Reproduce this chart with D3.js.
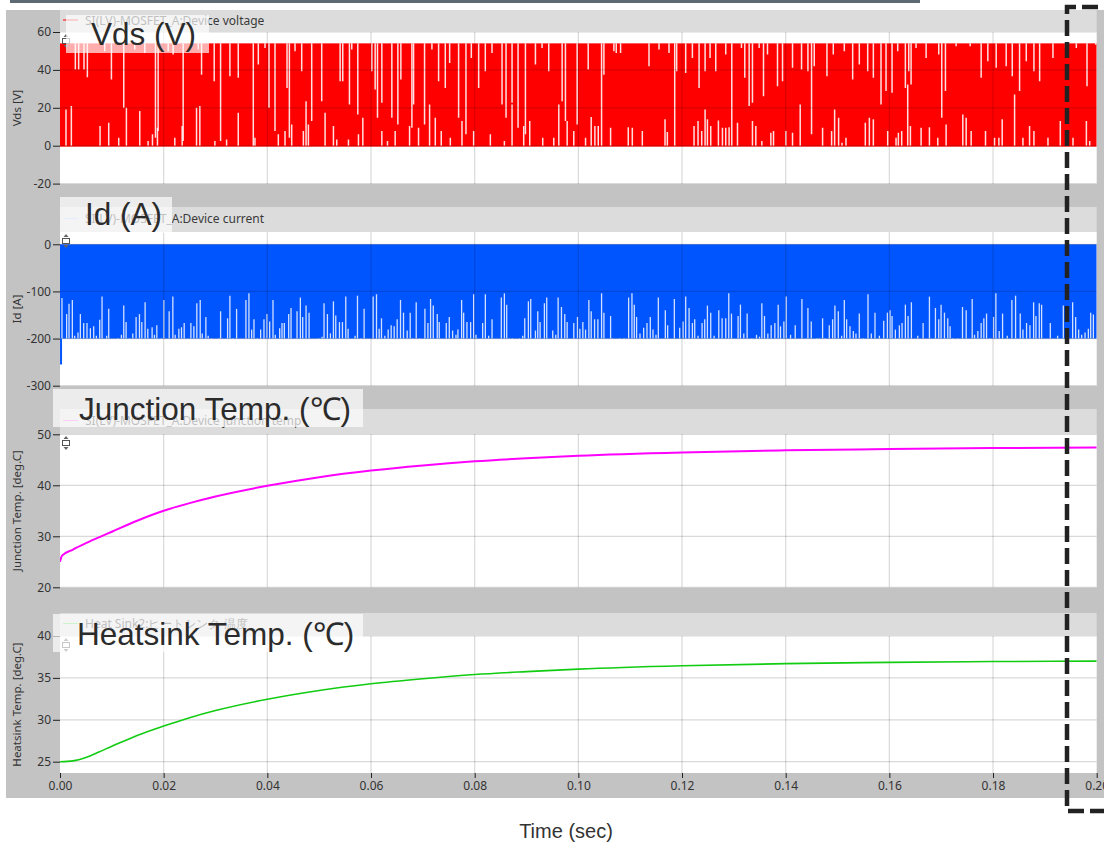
<!DOCTYPE html>
<html><head><meta charset="utf-8">
<script src="https://cdn.jsdelivr.net/npm/d3@7"></script>
<style>
body{margin:0;background:#fff;}
svg{display:block;font-family:"Noto Sans","DejaVu Sans",sans-serif;}
</style>
</head><body>
<svg id="chart" width="1104" height="847"></svg>
<script>
// ---------------- data ----------------
const timeTicks = [0,0.02,0.04,0.06,0.08,0.10,0.12,0.14,0.16,0.18,0.20];
const timeTickLabels = ["0.00","0.02","0.04","0.06","0.08","0.10","0.12","0.14","0.16","0.18","0.20"];
const vdsTicks = [-20,0,20,40,60];
const idTicks = [-300,-200,-100,0];
const tjTicks = [20,30,40,50];
const hsTicks = [25,30,35,40];
const seriesNames = ["SI(LV)-MOSFET_A:Device voltage","SI(LV)-MOSFET_A:Device current","SI(LV)-MOSFET_A:Device junction temp","Heat Sink2:ヒートシンク 温度"];
const axisTitles = ["Vds [V]","Id [A]","Junction Temp. [deg.C]","Heatsink Temp. [deg.C]"];
const annotations = ["Vds (V)","Id (A)","Junction Temp. (℃)","Heatsink Temp. (℃)"];
const xTitle = "Time (sec)";

// Vds switches between these two levels (V)
const vdsLevels = [-0.5, 54];
// white gaps hanging from the top level (time ms, lower end V)
const vdsTopGapTime = [2.96,3.60,4.63,5.28,8.63,9.92,12.30,14.42,16.36,18.42,18.93,20.87,21.83,23.76,26.66,27.31,29.75,30.98,32.78,34.39,37.29,38.26,39.55,40.32,41.48,43.80,44.25,45.34,46.63,48.56,50.49,54.04,54.55,55.84,56.29,57.45,60.16,60.80,61.25,62.09,64.02,65.18,65.76,67.89,68.21,70.33,71.75,73.04,74.33,75.17,76.90,78.32,79.35,80.77,82.05,83.34,85.28,86.05,87.21,88.37,89.79,91.72,93.00,94.29,96.87,97.51,99.77,
101.90,104.48,104.93,106.86,107.31,108.15,113.63,115.56,117.49,118.59,118.97,120.71,122.00,123.29,124.45,125.41,126.51,128.44,129.60,131.47,132.11,132.95,133.59,134.88,135.72,136.49,138.42,139.39,141.32,143.06,144.29,144.99,145.51,147.96,149.18,151.31,152.92,154.20,155.82,156.91,158.39,159.36,160.52,161.61,163.09,163.74,164.19,165.15,167.09,169.53,170.11,170.82,172.88,175.59,177.71,179.00,180.61,182.54,183.71,185.12,186.41,187.89,188.99,191.56,194.01,196.07,198.13,199.81];
const vdsTopGapLow = [40.2,40.2,40.2,36.1,49.8,34.9,20.0,50.7,48.9,4.2,7.7,49.8,48.1,2.5,50.7,37.5,34.0,2.5,36.7,35.8,0,42.8,51.6,20.0,7.7,30.5,4.2,49.8,39.3,13.0,23.5,34.0,34.0,21.8,50.7,16.5,39.3,29.7,14.7,22.6,14.7,11.2,34.9,9.5,21.8,11.2,50.7,34.0,30.5,43.7,14.7,6.0,46.3,30.5,39.3,48.9,21.8,14.7,22.6,9.5,6.0,42.8,51.6,39.3,23.5,13.0,11.2,
40.2,0,37.5,49.8,48.9,48.9,41.9,50.7,48.9,0,39.3,38.4,46.3,30.5,39.3,46.3,39.3,48.1,0,51.6,35.8,20.9,22.6,51.6,26.1,48.1,31.4,34.0,41.1,40.2,39.3,6.0,41.9,36.7,48.1,49.8,34.9,42.8,39.3,35.8,21.8,28.8,27.9,49.8,30.5,39.3,32.3,51.6,46.3,48.1,14.7,28.8,52.5,52.5,35.8,44.6,41.1,41.9,36.7,28.8,44.6,39.3,34.0,46.3,51.6,51.6,31.4,53.3];
// white gaps rising from the low level (time ms, upper end V)
const vdsBottomGapTime = [1.16,2.19,7.73,9.40,11.33,12.81,15.39,17.00,17.84,18.80,22.15,23.57,26.34,26.98,29.88,32.14,34.39,37.61,42.12,43.41,44.70,46.95,47.47,47.92,51.14,52.75,53.39,55.65,57.58,58.42,62.09,63.18,64.66,67.44,69.17,71.30,72.40,73.55,75.30,77.55,79.80,83.02,85.73,87.21,89.46,90.62,93.13,95.26,96.23,97.84,99.12,
101.39,102.48,103.19,103.84,106.22,109.63,110.41,112.34,116.72,117.17,122.32,123.09,123.80,124.45,124.90,125.54,127.02,127.80,128.44,129.08,130.70,133.59,134.24,135.40,137.14,137.65,140.03,141.32,142.80,147.12,148.86,149.44,150.21,150.86,151.63,155.36,156.14,156.91,159.68,161.29,161.74,162.38,163.54,164.06,166.12,167.73,169.34,170.95,174.17,174.82,175.78,178.55,180.29,181.13,181.77,184.16,185.77,187.05,187.89,190.60,192.98,195.43,198.01,198.65];
const vdsBottomGapHigh = [19.1,20.9,10.4,12.1,4.2,20.0,18.3,2.5,6.0,9.5,4.2,10.4,20.0,20.9,2.5,3.3,17.4,4.2,6.0,7.7,11.2,7.7,23.5,11.2,17.4,10.4,3.3,3.3,6.0,14.7,7.7,2.5,7.7,10.4,9.5,21.8,14.7,7.7,4.2,13.0,7.7,6.0,2.5,21.8,10.4,13.0,4.2,4.2,21.8,13.0,7.7,
4.2,15.1,10.4,10.4,9.5,9.8,9.5,7.7,13.9,7.2,10.4,13.0,7.7,19.1,13.9,10.4,13.3,9.5,9.5,9.8,12.1,13.0,10.4,2.5,6.8,7.7,7.7,6.8,21.8,9.5,7.7,19.1,14.7,1.6,4.2,12.1,14.7,13.9,7.7,4.2,6.8,7.7,32.3,10.4,9.5,9.8,4.2,11.2,16.5,14.7,7.7,7.7,4.2,4.2,13.9,27.0,4.2,10.4,7.7,4.2,13.0,4.2,13.0,2.5];

// Id switches between these two levels (A)
const idLevels = [-200, 0];
const idStartMin = -255;
// white spikes rising from -200 A (time ms, top A)
const idSpikeTime = [0.38,1.28,1.74,2.38,2.83,3.47,3.93,4.57,5.21,5.86,6.50,7.02,7.66,8.11,9.01,9.40,11.2,11.85,12.30,12.75,13.39,14.04,14.68,15.33,15.78,16.42,16.94,17.77,18.22,18.68,19.58,20.03,21.06,21.77,22.22,22.93,23.44,23.96,25.25,25.83,26.40,27.05,27.44,28.14,28.59,29.24,30.66,30.98,32.33,32.78,33.36,34.07,35.87,36.45,36.97,37.42,38.06,38.71,39.35,39.93,40.45,41.09,41.54,42.38,42.83,43.28,44.12,44.57,45.73,46.37,46.82,47.47,48.05,49.91,50.56,50.94,51.59,52.17,52.75,53.20,53.91,54.49,55.13,55.58,56.93,57.39,58.03,58.67,60.41,61.06,61.57,62.02,62.67,63.31,63.89,64.47,65.05,65.69,66.27,66.98,67.56,68.01,68.72,69.37,70.40,70.98,71.49,72.01,72.78,73.16,74.52,75.10,75.74,76.39,76.77,77.48,77.87,78.51,79.22,79.80,80.25,81.54,82.06,82.70,83.35,85.14,85.73,86.18,86.69,87.27,88.62,89.27,89.66,90.36,90.81,91.72,92.17,92.62,93.45,93.90,95.06,95.64,96.10,96.74,97.38,97.84,99.12,99.83,
100.29,100.87,101.39,102.03,102.48,103.13,103.77,104.48,104.93,106.22,106.54,107.96,108.86,109.70,110.34,110.79,111.24,111.89,112.60,113.24,113.88,114.40,114.98,115.43,116.78,117.23,118.52,119.55,120.20,120.71,121.36,122.00,122.45,123.09,123.87,124.38,124.90,125.54,126.19,127.09,127.73,128.44,129.02,129.54,130.82,131.27,131.92,132.56,133.46,134.37,134.95,135.40,135.91,136.56,137.20,137.91,138.55,139.00,139.65,140.10,140.94,141.84,143.13,144.29,144.93,146.02,146.48,147.12,147.57,148.41,149.05,149.50,150.15,150.79,151.31,151.76,152.40,153.05,153.56,154.20,154.98,155.88,156.52,157.23,158.07,158.91,159.62,160.13,160.52,161.16,161.93,162.45,163.09,163.61,164.25,165.48,166.51,167.73,168.89,169.53,169.98,170.63,171.27,171.72,172.24,173.21,174.11,174.82,175.98,176.43,177.07,177.71,178.23,178.75,179.39,180.10,180.55,181.19,181.84,182.74,183.64,184.35,185.25,185.77,186.47,187.12,187.83,188.28,188.92,189.37,191.05,192.46,193.56,195.36,195.94,196.52,197.10,197.75,198.39,198.84,199.36];
const idSpikeTop = [-114,-148,-126,-118,-194,-187,-148,-167,-167,-178,-174,-194,-160,-111,-194,-137,-199,-192,-130,-165,-199,-189,-154,-148,-165,-123,-179,-176,-192,-172,-199,-118,-142,-111,-192,-179,-176,-167,-167,-174,-125,-118,-189,-154,-194,-199,-199,-142,-157,-109,-199,-137,-118,-104,-181,-159,-199,-181,-159,-148,-164,-118,-192,-178,-167,-167,-148,-135,-142,-113,-154,-130,-145,-199,-196,-125,-148,-189,-121,-151,-165,-165,-111,-179,-194,-109,-199,-137,-111,-106,-179,-157,-194,-181,-172,-174,-159,-118,-145,-183,-145,-199,-123,-199,-137,-167,-116,-130,-148,-165,-167,-154,-183,-192,-181,-118,-145,-165,-165,-106,-192,-167,-106,-194,-159,-113,-104,-128,-199,-199,-199,-194,-157,-121,-116,-183,-142,-165,-125,-113,-183,-192,-113,-133,-148,-165,-167,-154,
-179,-165,-181,-118,-142,-159,-159,-104,-145,-152,-199,-199,-199,-113,-104,-128,-154,-189,-177,-167,-154,-181,-192,-113,-140,-172,-116,-177,-164,-111,-135,-167,-159,-194,-167,-159,-130,-145,-194,-140,-157,-157,-104,-147,-152,-128,-189,-147,-199,-192,-196,-125,-152,-189,-172,-167,-128,-174,-164,-111,-192,-172,-116,-135,-164,-199,-199,-157,-199,-172,-159,-130,-142,-194,-118,-159,-174,-184,-189,-147,-199,-106,-189,-145,-194,-162,-145,-140,-152,-181,-172,-167,-128,-152,-123,-194,-167,-111,-135,-159,-128,-145,-157,-174,-199,-199,-133,-140,-116,-192,-184,-167,-157,-147,-199,-154,-104,-184,-147,-194,-118,-109,-147,-181,-167,-172,-123,-152,-125,-128,-167,-194,-130,-123,-154,-181,-192,-187,-179,-145,-149];

// junction temperature (s, deg C)
const tjTime = [0,0.0004,0.0025,0.005,0.0075,0.01,0.015,0.02,0.025,0.03,0.04,0.05,0.06,0.07,0.08,0.09,0.10,0.12,0.14,0.16,0.18,0.20];
const tjValue = [25.0,26.2,27.4,28.65,29.8,30.9,33.1,35.0,36.5,37.8,39.9,41.6,42.9,43.9,44.7,45.3,45.8,46.45,46.85,47.1,47.3,47.4];
// heatsink temperature (s, deg C)
const hsTime = [0,0.0025,0.005,0.0075,0.01,0.0125,0.015,0.02,0.025,0.03,0.04,0.05,0.06,0.07,0.08,0.09,0.10,0.12,0.14,0.16,0.18,0.20];
const hsValue = [25.0,25.1,25.5,26.15,26.85,27.5,28.15,29.25,30.25,31.1,32.45,33.5,34.3,34.9,35.4,35.75,36.05,36.45,36.7,36.85,36.95,37.0];

// ---------------- layout ----------------
const svg = d3.select("#chart");
const X0 = 60, X1 = 1096.7;
const x = d3.scaleLinear().domain([0,0.2]).range([X0, X1]);

const panels = [
  {head:[10,32], plot:[32,184], y:d3.scaleLinear().domain([-20,60]).range([183.6,32]), ticks:vdsTicks},
  {head:[207,232], plot:[232,386], y:d3.scaleLinear().domain([-300,0]).range([385.7,244.3]), ticks:idTicks},
  {head:[409,434], plot:[434,587.5], y:d3.scaleLinear().domain([20,50]).range([587.3,434.3]), ticks:tjTicks},
  {head:[613,636], plot:[636,773], y:d3.scaleLinear().domain([25,40]).range([761.7,636]), ticks:hsTicks}
];
const legendColors = ["#ff0000","#a8c8ff","#ff66ff","#66dd66"];
const annBoxes = [
  {x:66,y:15,w:143,h:38,tx:91,ty:45},
  {x:60,y:197,w:112,h:36,tx:85,ty:225},
  {x:53,y:389,w:310,h:38,tx:79,ty:420},
  {x:53,y:614,w:310,h:38,tx:77,ty:645}
];

// top dark bar and gray panel
svg.append("rect").attr("x",10).attr("y",0).attr("width",910).attr("height",3).attr("fill","#5d6a74");
svg.append("rect").attr("x",6).attr("y",10).attr("width",1104).attr("height",788).attr("fill","#c3c3c3");

panels.forEach((p,i)=>{
  const g = svg.append("g");
  g.append("rect").attr("x",X0).attr("y",p.head[0]).attr("width",X1-X0).attr("height",p.head[1]-p.head[0]).attr("fill","#dcdcdc");
  g.append("rect").attr("x",X0).attr("y",p.plot[0]).attr("width",X1-X0).attr("height",p.plot[1]-p.plot[0]).attr("fill","#ffffff");
  svg.append("clipPath").attr("id","clip"+i).append("rect")
    .attr("x",X0).attr("y",p.plot[0]).attr("width",X1-X0).attr("height",p.plot[1]-p.plot[0]);
  p.g = g;
  p.data = g.append("g").attr("clip-path",`url(#clip${i})`);
  // legend
  const ly = p.head[0] + (p.head[1]-p.head[0])/2 - 1;
  g.append("line").attr("x1",63).attr("x2",78).attr("y1",ly).attr("y2",ly).attr("stroke",legendColors[i]).attr("stroke-width",1);
  g.append("text").attr("x",85).attr("y",ly+4.5).attr("font-size",12).attr("fill","#3a3a3a").text(seriesNames[i]);
  // y axis
  const ax = g.append("g").attr("transform",`translate(${X0},0)`)
    .call(d3.axisLeft(p.y).tickValues(p.ticks).tickFormat(d=>String(d)).tickSize(7).tickPadding(2));
  ax.select(".domain").remove();
  ax.selectAll("line").attr("stroke","#222");
  ax.selectAll("text").attr("font-size",12).attr("fill","#333").attr("font-family","Noto Sans, sans-serif");
  // axis title
  g.append("text").attr("transform",`translate(21,${(p.plot[0]+p.plot[1])/2}) rotate(-90)`)
    .attr("text-anchor","middle").attr("font-size",11.5).attr("fill","#333").text(axisTitles[i]);
});

// ---- Vds ----
{
  const p = panels[0], y = p.y;
  p.data.append("rect").attr("x",x(0)).attr("width",x(0.2)-x(0))
    .attr("y",y(vdsLevels[1])).attr("height",y(vdsLevels[0])-y(vdsLevels[1])).attr("fill","#ff0000");
  p.data.selectAll(".tg").data(vdsTopGapTime).enter().append("line")
    .attr("x1",d=>x(d/1000)).attr("x2",d=>x(d/1000))
    .attr("y1",y(vdsLevels[1])).attr("y2",(d,j)=>y(vdsTopGapLow[j]))
    .attr("stroke","#fff").attr("stroke-width",1.5).attr("stroke-opacity",0.88);
  p.data.selectAll(".bg").data(vdsBottomGapTime).enter().append("line")
    .attr("x1",d=>x(d/1000)).attr("x2",d=>x(d/1000))
    .attr("y1",y(0)).attr("y2",(d,j)=>y(vdsBottomGapHigh[j]))
    .attr("stroke","#fff").attr("stroke-width",1.5).attr("stroke-opacity",0.88);
}
// ---- Id ----
{
  const p = panels[1], y = p.y;
  p.data.append("rect").attr("x",x(0)).attr("width",x(0.2)-x(0))
    .attr("y",y(idLevels[1])).attr("height",y(idLevels[0])-y(idLevels[1])).attr("fill","#0055ff");
  p.data.append("line").attr("x1",x(0.0002)).attr("x2",x(0.0002))
    .attr("y1",y(idLevels[0])).attr("y2",y(idStartMin)).attr("stroke","#0055ff").attr("stroke-width",2);
  p.data.selectAll(".sp").data(idSpikeTime).enter().append("line")
    .attr("x1",d=>x(d/1000)).attr("x2",d=>x(d/1000))
    .attr("y1",y(idLevels[0])).attr("y2",(d,j)=>y(idSpikeTop[j]))
    .attr("stroke","#fff").attr("stroke-width",1.3).attr("stroke-opacity",0.82);
}

// grid lines (drawn over fills, translucent)
panels.forEach((p,i)=>{
  const gg = p.data.append("g");
  gg.selectAll(".vx").data(timeTicks.slice(1,-1)).enter().append("line")
    .attr("x1",d=>x(d)).attr("x2",d=>x(d)).attr("y1",p.plot[0]).attr("y2",p.plot[1])
    .attr("stroke","#000").attr("stroke-opacity",0.15).attr("stroke-width",1.2);
  gg.selectAll(".hy").data(p.ticks).enter().append("line")
    .attr("x1",X0).attr("x2",X1).attr("y1",d=>p.y(d)).attr("y2",d=>p.y(d))
    .attr("stroke","#000").attr("stroke-opacity",0.15).attr("stroke-width",1.2);
});

// ---- temperatures ----
{
  const p = panels[2];
  p.data.append("path").datum(tjTime.map((t,j)=>[t,tjValue[j]]))
    .attr("d",d3.line().x(d=>x(d[0])).y(d=>p.y(d[1])).curve(d3.curveMonotoneX))
    .attr("fill","none").attr("stroke","#ff00ff").attr("stroke-width",2);
}
{
  const p = panels[3];
  p.data.append("path").datum(hsTime.map((t,j)=>[t,hsValue[j]]))
    .attr("d",d3.line().x(d=>x(d[0])).y(d=>p.y(d[1])).curve(d3.curveMonotoneX))
    .attr("fill","none").attr("stroke","#12cc12").attr("stroke-width",1.6);
}

// small scroll icons
panels.forEach(p=>{
  const cx = 66, cy = p.plot[0]+9;
  const ic = p.g.append("g").attr("fill","none").attr("stroke","#555").attr("stroke-width",1);
  ic.append("rect").attr("x",cx-3.5).attr("y",cy-2.5).attr("width",7).attr("height",5).attr("fill","#fff");
  p.g.append("path").attr("d",`M${cx-2.5},${cy-4} L${cx},${cy-7} L${cx+2.5},${cy-4} Z M${cx-2.5},${cy+4} L${cx},${cy+7} L${cx+2.5},${cy+4} Z`).attr("fill","#666");
});

// x axis
{
  const ax = svg.append("g").attr("transform",`translate(0,773)`)
    .call(d3.axisBottom(x).tickValues(timeTicks).tickFormat((d,i)=>timeTickLabels[i]).tickSize(5).tickPadding(3));
  ax.select(".domain").remove();
  ax.selectAll("line").attr("stroke","#222");
  ax.selectAll("text").attr("font-size",12).attr("fill","#333").attr("font-family","Noto Sans, sans-serif");
}

// annotation boxes
annBoxes.forEach((b,i)=>{
  svg.append("rect").attr("x",b.x).attr("y",b.y).attr("width",b.w).attr("height",b.h).attr("fill","#fff").attr("fill-opacity",0.68);
  svg.append("text").attr("x",b.tx).attr("y",b.ty).attr("font-family","Liberation Sans, Arial, sans-serif")
    .attr("font-size",31.5).attr("fill","#2b2b2b").text(annotations[i]);
});

// x title
svg.append("text").attr("x",566).attr("y",838).attr("text-anchor","middle")
  .attr("font-family","Liberation Sans, Arial, sans-serif").attr("font-size",20).attr("fill","#333").text(xTitle);

// dashed highlight frame
svg.append("path").attr("d","M1120,7 H1067 V811 H1120")
  .attr("fill","none").attr("stroke","#222").attr("stroke-width",4.5).attr("stroke-dasharray","16,6");
</script>
</body></html>
